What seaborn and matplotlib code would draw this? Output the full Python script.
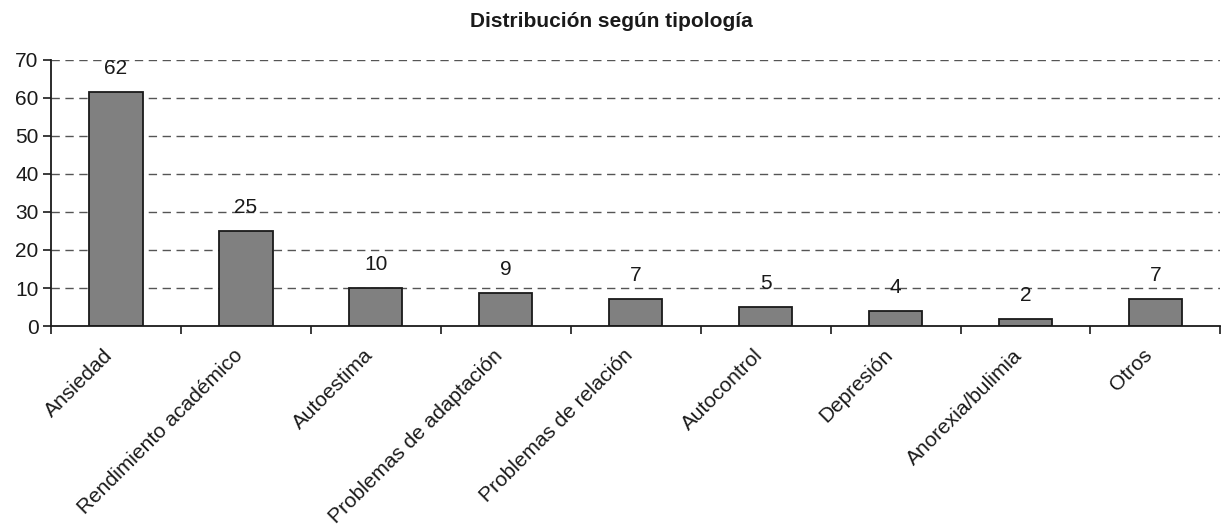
import matplotlib
matplotlib.use("Agg")
import matplotlib.pyplot as plt
import matplotlib.transforms as mtransforms
import seaborn as sns
import pandas as pd
from matplotlib.ticker import FixedLocator

categorias = ["Ansiedad", "Rendimiento académico", "Autoestima",
              "Problemas de adaptación", "Problemas de relación",
              "Autocontrol", "Depresión", "Anorexia/bulimia", "Otros"]
valores = [61.6, 25.1, 10.0, 8.8, 7.1, 5.1, 4.0, 1.9, 7.1]
etiquetas = ["62", "25", "10", "9", "7", "5", "4", "2", "7"]
yticks = [0, 10, 20, 30, 40, 50, 60, 70]

df = pd.DataFrame({"tipo": categorias, "n": valores})

sns.set_style("white")
plt.rcParams['font.family'] = ['Liberation Sans', 'DejaVu Sans']

fig = plt.figure(figsize=(12.22, 5.25), dpi=100)
ax = fig.add_axes([0.0417, 0.379, 0.957, 0.507])

sns.barplot(data=df, x="tipo", y="n", color="#808080", saturation=1,
            edgecolor="#1a1a1a", linewidth=1.3, width=0.41, ax=ax)

ax.bar_label(ax.containers[0], labels=etiquetas, padding=10, fontsize=15,
             color="#1a1a1a")

ax.set_ylim(0, 70)
ax.set_xlim(-0.5, len(categorias) - 0.5)
ax.set_yticks(yticks)
ax.set_xlabel("")
ax.set_ylabel("")

# grid lines, dashed, not at zero
for v in yticks[1:]:
    ax.axhline(v, color="#555555", lw=1.0, ls=(0, (6, 4)), zorder=0)

ax.spines['top'].set_visible(False)
ax.spines['right'].set_visible(False)
ax.spines['left'].set_color("#1a1a1a")
ax.spines['bottom'].set_color("#1a1a1a")
ax.spines['left'].set_linewidth(1.3)
ax.spines['bottom'].set_linewidth(1.3)

ax.tick_params(axis='y', direction='out', length=6, width=1.2, labelsize=15,
               colors="#1a1a1a", left=True, pad=3)
ax.tick_params(axis='x', which='major', length=0, labelsize=15,
               colors="#1a1a1a", pad=19)
ax.xaxis.set_minor_locator(FixedLocator([i - 0.5 for i in range(len(categorias) + 1)]))
ax.tick_params(axis='x', which='minor', direction='out', length=6, width=1.2,
               color="#1a1a1a", bottom=True)
shift = mtransforms.ScaledTranslation(-6 / 100, 0, fig.dpi_scale_trans)
for lab in ax.get_xticklabels():
    lab.set_rotation(45)
    lab.set_ha('right')
    lab.set_va('center')
    lab.set_rotation_mode('anchor')
    lab.set_transform(lab.get_transform() + shift)

fig.suptitle("Distribución según tipología", fontsize=15, fontweight='bold',
             y=0.978, color="#1a1a1a")

fig.savefig("out.png", dpi=100)
